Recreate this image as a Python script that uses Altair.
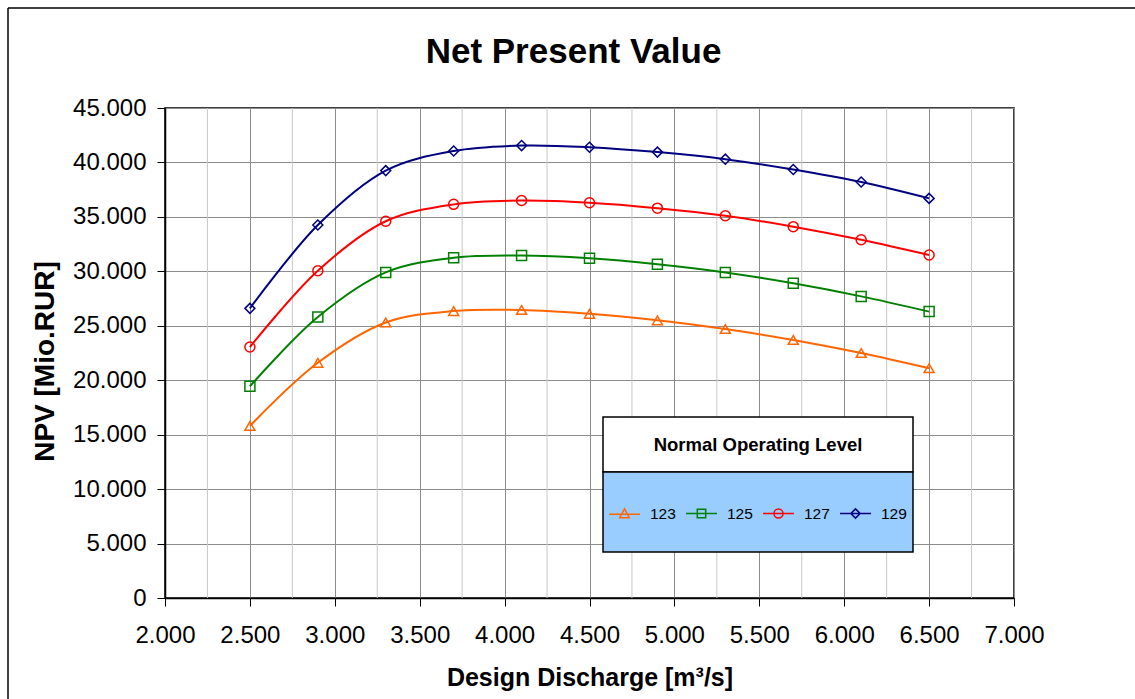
import altair as alt
import pandas as pd

FONT = "Liberation Sans"

# Design discharge values of the computed variants
discharge = [2500, 2900, 3300, 3700, 4100, 4500, 4900, 5300, 5700, 6100, 6500]

# Normal operating levels and the NPV per variant [Mio.RUR]
levels = ["123", "125", "127", "129"]
npv_123 = [15800, 21600, 25300, 26350, 26450, 26100, 25500, 24700, 23700, 22500, 21100]
npv_125 = [19450, 25800, 29900, 31250, 31450, 31200, 30650, 29900, 28900, 27700, 26300]
npv_127 = [23050, 30050, 34600, 36150, 36500, 36300, 35800, 35100, 34100, 32900, 31500]
npv_129 = [26600, 34250, 39250, 41050, 41550, 41400, 40950, 40300, 39350, 38200, 36700]

series_colors = ["#FF6600", "#008000", "#FF0000", "#000080"]
marker_shapes = ["triangle-up", "square", "circle", "diamond"]
# legend symbols: a short line with the series marker on it
legend_symbols = [
    "M-1,0.05H1M0,-0.3L0.31,0.27H-0.31Z",
    "M-1,0H1M-0.27,-0.27H0.27V0.27H-0.27Z",
    "M-1,0H1M0.29,0A0.29,0.29,0,1,1,-0.29,0A0.29,0.29,0,1,1,0.29,0Z",
    "M-1,0H1M0,-0.3L0.3,0L0,0.3L-0.3,0Z",
]

x_ticks = [2000, 2500, 3000, 3500, 4000, 4500, 5000, 5500, 6000, 6500, 7000]
x_minor = [2250, 2750, 3250, 3750, 4250, 4750, 5250, 5750, 6250, 6750]
y_ticks = [0, 5000, 10000, 15000, 20000, 25000, 30000, 35000, 40000, 45000]

rows = []
for lvl, vals in zip(levels, [npv_123, npv_125, npv_127, npv_129]):
    for q, v in zip(discharge, vals):
        rows.append({"x": q, "npv": v, "level": lvl})
df = pd.DataFrame(rows)

# thousands separated by a dot
dot_labels = "replace(format(datum.value, ','), ',', '.')"

x_enc = alt.X(
    "x:Q",
    title="Design Discharge [m³/s]",
    scale=alt.Scale(domain=[2000, 7000], nice=False, zero=False),
    axis=alt.Axis(
        values=x_ticks, labelExpr=dot_labels, labelFontSize=24, labelFont=FONT,
        labelColor="black", labelPadding=17, labelFlush=False, labelOverlap=False,
        tickSize=8, tickColor="black",
        domainColor="black", domainWidth=1.5, gridColor="#8c8c8c",
        titleFont=FONT, titleFontSize=25, titleFontWeight="bold", titleColor="black",
        titleBaseline="alphabetic", titleY=87,
    ),
)
y_enc = alt.Y(
    "npv:Q",
    title="NPV [Mio.RUR]",
    scale=alt.Scale(domain=[0, 45000], nice=False),
    axis=alt.Axis(
        values=y_ticks, labelExpr=dot_labels, labelFontSize=24, labelFont=FONT,
        labelColor="black", labelPadding=11, labelFlush=False, labelOverlap=False,
        tickSize=8, tickColor="black",
        domainColor="black", domainWidth=1.5, gridColor="#8c8c8c",
        titleFont=FONT, titleFontSize=28, titleFontWeight="bold", titleColor="black",
        titleBaseline="middle", titleX=-120, titleY=253,
    ),
)

color_scale = alt.Scale(domain=levels, range=series_colors)

legend_def = alt.Legend(
    title=None, orient="none", legendX=443, legendY=389, direction="horizontal",
    columns=4, columnPadding=7, labelOffset=9, labelFontSize=15.5, labelFont=FONT,
    labelColor="black", symbolSize=961, symbolStrokeWidth=1.5, symbolOpacity=1,
    symbolFillColor="transparent", padding=0,
)

minor_grid = alt.Chart(pd.DataFrame({"x": x_minor})).mark_rule(
    color="#c8c8c8", strokeWidth=1
).encode(x=x_enc)

lines = alt.Chart(df).mark_line(interpolate="catmull-rom", strokeWidth=2).encode(
    x=x_enc, y=y_enc, color=alt.Color("level:N", scale=color_scale, legend=None)
)

points = alt.Chart(df).mark_point(filled=False, size=100, strokeWidth=1.5, opacity=1).encode(
    x=x_enc, y=y_enc,
    color=alt.Color("level:N", scale=color_scale, legend=None),
    shape=alt.Shape("level:N", scale=alt.Scale(domain=levels, range=marker_shapes), legend=None),
)

legend_layer = alt.Chart(df).mark_point(filled=False, size=961, strokeWidth=1.5, opacity=0).encode(
    x=x_enc, y=y_enc,
    color=alt.Color("level:N", scale=color_scale, legend=legend_def),
    shape=alt.Shape("level:N", scale=alt.Scale(domain=levels, range=legend_symbols), legend=legend_def),
)

one = pd.DataFrame({"label": ["Normal Operating Level"]})

frame_left = alt.Chart(one).mark_rule(color="black", strokeWidth=1.5).encode(
    x=alt.value(-157), y=alt.value(-100), y2=alt.value(620)
)
frame_top = alt.Chart(one).mark_rule(color="black", strokeWidth=1.5).encode(
    x=alt.value(-157), x2=alt.value(1000), y=alt.value(-100)
)

legend_head = alt.Chart(one).mark_rect(fill="white", stroke="black", strokeWidth=1.5).encode(
    x=alt.value(438), x2=alt.value(748), y=alt.value(309), y2=alt.value(364)
)
legend_body = alt.Chart(one).mark_rect(fill="#99CCFF", stroke="black", strokeWidth=1.5).encode(
    x=alt.value(438), x2=alt.value(748), y=alt.value(364), y2=alt.value(444)
)
legend_title = alt.Chart(one).mark_text(
    font=FONT, fontSize=18.5, fontWeight="bold", color="black", baseline="middle", align="center"
).encode(text="label:N", x=alt.value(593), y=alt.value(337))

chart = (
    alt.layer(
        minor_grid, lines, points, legend_layer,
        frame_left, frame_top, legend_head, legend_body, legend_title,
    )
    .resolve_scale(color="independent", shape="independent")
    .properties(
        width=849,
        height=490,
        title=alt.TitleParams(
            "Net Present Value", font=FONT, fontSize=35, fontWeight="bold",
            color="black", anchor="middle", dx=-16, offset=-63,
        ),
        autosize=alt.AutoSizeParams(type="none"),
        padding={"left": 165, "top": 108, "right": 121, "bottom": 101},
        background="white",
    )
    .configure_view(stroke="black", strokeWidth=1.5)
)

chart.save("out.html", embed_options={"renderer": "svg", "actions": False})
